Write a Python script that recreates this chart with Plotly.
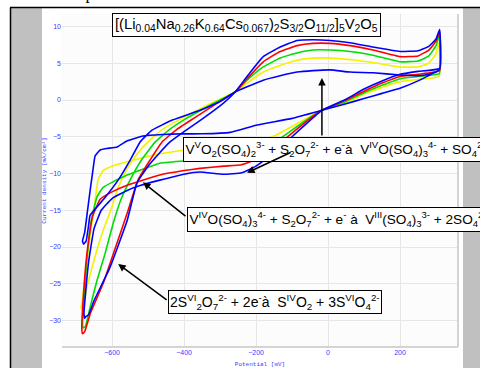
import plotly.graph_objects as go

# ---- data (potential in mV, current density in mA/cm2) ----
# fastest scan (outer blue)
blue1_up_E = [-674,-665,-650,-606,-558,-531,-500,-470,-439,-400,-350,-300,-258,-225,-180,-133,-86,-42,6,61,125,200,250,280,300,310]
blue1_up_I = [-29.5,-29.2,-27.3,-22.8,-16.4,-11.3,-9.0,-7.3,-5.7,-4.3,-2.6,-0.8,1.1,3.2,5.9,7.2,8.1,8.2,8.1,7.8,7.2,6.6,6.7,7.3,8.3,9.6]
blue1_dn_E = [310,250,200,150,100,50,-17,-60,-100,-150,-200,-240,-290,-356,-400,-467,-520,-558,-600,-630,-650,-665,-674,-678,-676]
blue1_dn_I = [4.3,3.9,3.5,2.6,1.5,0.1,-1.4,-3.2,-5.0,-7.2,-9.0,-9.9,-10.1,-9.8,-10.1,-10.9,-11.6,-12.3,-13.4,-15.0,-17.5,-22.0,-26.5,-29.0,-29.7]

red_up_E = [-682,-676,-660,-625,-590,-558,-528,-500,-461,-420,-370,-310,-258,-225,-180,-133,-86,-42,6,61,125,200,250,280,300,310]
red_up_I = [-31.8,-31.5,-29.0,-25.0,-20.0,-15.4,-10.9,-8.6,-5.7,-4.0,-2.4,-0.5,1.1,2.9,5.2,6.6,7.4,7.7,7.7,7.4,6.8,5.9,6.0,6.8,8.0,9.3]
red_dn_E = [310,250,200,150,100,50,-17,-60,-100,-150,-200,-240,-290,-356,-400,-467,-558,-600,-633,-655,-670,-680,-684]
red_dn_I = [4.0,3.5,3.2,2.3,1.2,0.0,-1.4,-2.9,-4.5,-6.5,-8.1,-8.8,-9.0,-9.3,-9.6,-10.2,-11.6,-12.5,-13.5,-16.0,-21.0,-27.0,-31.0]

green_up_E = [-680,-674,-660,-642,-620,-597,-575,-550,-520,-480,-440,-390,-320,-258,-225,-180,-133,-86,-42,6,61,125,200,250,280,300,309]
green_up_I = [-31.0,-30.8,-28.0,-24.6,-21.0,-16.8,-13.5,-10.9,-8.3,-5.7,-4.0,-2.4,-0.5,1.1,2.7,4.5,5.7,6.4,6.8,6.8,6.6,6.1,5.2,5.3,6.0,7.4,8.8]
green_dn_E = [309,250,200,150,100,50,-17,-60,-100,-150,-200,-240,-290,-356,-400,-467,-558,-600,-625,-642,-660,-672,-679,-682]
green_dn_I = [3.6,3.2,2.9,2.0,1.0,-0.2,-1.4,-2.7,-4.1,-5.8,-7.2,-7.8,-8.0,-8.1,-8.3,-8.6,-10.2,-11.2,-11.9,-13.2,-17.0,-23.0,-28.0,-30.6]

yellow_up_E = [-684,-681,-670,-653,-625,-600,-583,-560,-530,-500,-460,-410,-340,-258,-225,-180,-133,-86,-42,6,61,125,200,250,280,300,308]
yellow_up_I = [-28.4,-28.3,-25.5,-22.3,-17.8,-14.5,-11.9,-9.5,-7.3,-5.7,-4.0,-2.6,-0.8,1.1,2.3,3.8,4.7,5.4,5.7,5.7,5.5,5.1,4.5,4.5,5.0,6.3,7.8]
yellow_dn_E = [308,250,200,150,100,50,-17,-60,-100,-150,-200,-240,-290,-356,-400,-467,-558,-600,-625,-639,-647,-660,-672,-682,-686]
yellow_dn_I = [3.2,2.8,2.5,1.7,0.8,-0.4,-1.4,-2.5,-3.6,-4.9,-5.8,-6.2,-6.3,-6.4,-6.8,-7.3,-8.4,-9.0,-9.6,-10.9,-13.7,-18.0,-23.0,-27.0,-28.2]

# slowest scan (inner blue)
blue2_up_E = [-679,-672,-665,-661,-620,-583,-550,-522,-489,-431,-356,-300,-258,-225,-180,-133,-86,-42,6,61,125,200,250,280,300,310]
blue2_up_I = [-19.6,-19.2,-17.0,-15.7,-13.3,-10.9,-8.2,-5.7,-4.1,-2.7,-1.4,-0.2,1.1,1.8,2.7,3.3,3.8,4.0,4.1,3.8,3.7,3.4,3.3,3.5,3.8,4.1]
blue2_dn_E = [310,250,200,150,100,50,-17,-100,-197,-272,-350,-403,-460,-514,-560,-586,-615,-633,-647,-653,-660,-668,-676,-682]
blue2_dn_I = [4.1,2.6,1.6,0.9,0.2,-0.5,-1.4,-2.5,-3.4,-4.4,-4.6,-4.6,-4.7,-4.9,-5.6,-6.4,-6.6,-6.8,-7.6,-9.5,-12.0,-15.0,-18.0,-19.2]

x_ticks = [-600, -400, -200, 0, 200]
y_ticks = [-30, -25, -20, -15, -10, -5, 0, 5, 10]

series = [
    (yellow_up_E, yellow_up_I, yellow_dn_E, yellow_dn_I, "#f2f200"),
    (green_up_E, green_up_I, green_dn_E, green_dn_I, "#00dd00"),
    (red_up_E, red_up_I, red_dn_E, red_dn_I, "#ff0000"),
    (blue1_up_E, blue1_up_I, blue1_dn_E, blue1_dn_I, "#0000ff"),
    (blue2_up_E, blue2_up_I, blue2_dn_E, blue2_dn_I, "#0000ff"),
]

fig = go.Figure()
for ue, ui, de, di, col in series:
    fig.add_trace(go.Scatter(
        x=ue + de + [ue[0]], y=ui + di + [ui[0]], mode="lines",
        line=dict(color=col, width=1.6, shape="spline", smoothing=0.35),
        showlegend=False, hoverinfo="skip"))

L, R, T, B = 62, 22, 14, 21
W, H = 480, 368
pw, ph = W - L - R, H - T - B

def px(xp):
    return (xp - L) / pw

def py(yp):
    return (H - B - yp) / ph

tick_font = dict(family="Liberation Sans, Arial", size=7, color="#3a3aff")
title_font = dict(family="Liberation Mono, Courier New", size=6, color="#3a3aff")

fig.update_layout(
    width=W, height=H,
    margin=dict(l=L, r=R, t=T, b=B, autoexpand=False),
    paper_bgcolor="white", plot_bgcolor="#fbfcfb",
    xaxis=dict(range=[-739, 361], tickvals=x_ticks, ticks="", showgrid=True,
               gridcolor="#e6e6e6", gridwidth=1, zeroline=False,
               tickfont=tick_font, showline=False,
               title=dict(text="Potential [mV]", font=title_font, standoff=6)),
    yaxis=dict(range=[-33.6, 11.7], tickvals=y_ticks, ticks="", showgrid=True,
               gridcolor="#e6e6e6", gridwidth=1, zeroline=False,
               tickfont=tick_font, showline=False,
               title=dict(text="Current density [mA/cm²]", font=title_font, standoff=2)),
)

shapes = [
    dict(type="rect", xref="paper", yref="paper", x0=px(11), x1=px(42), y0=py(368), y1=py(8),
         fillcolor="#c0c0c0", line=dict(width=0), layer="below"),
    dict(type="rect", xref="paper", yref="paper", x0=px(463), x1=px(481), y0=py(368), y1=py(8),
         fillcolor="#c0c0c0", line=dict(width=0), layer="below"),
    dict(type="line", xref="paper", yref="paper", x0=px(10), x1=px(481), y0=py(7.5), y1=py(7.5),
         line=dict(color="black", width=1.5)),
    dict(type="line", xref="paper", yref="paper", x0=px(10.5), x1=px(10.5), y0=py(7.5), y1=py(369),
         line=dict(color="black", width=1.5)),
    dict(type="line", xref="paper", yref="paper", x0=0, x1=1, y0=0, y1=0,
         line=dict(color="#d4d4d4", width=2)),
    dict(type="line", xref="paper", yref="paper", x0=1, x1=1, y0=0, y1=1,
         line=dict(color="#d4d4d4", width=2)),
]
fig.update_layout(shapes=shapes)

box_font = dict(family="Liberation Sans, Arial", size=13.6, color="black")
nb = "\u00a0"
annotations = [
    dict(text="reaction is possible.", xref="paper", yref="paper", x=px(9), y=py(5),
         xanchor="left", yanchor="bottom", showarrow=False,
         font=dict(family="Liberation Serif, Times New Roman", size=17, color="black")),
    dict(text="[(Li<sub>0.04</sub>Na<sub>0.26</sub>K<sub>0.64</sub>Cs<sub>0.067</sub>)<sub>2</sub>S<sub>3/2</sub>O<sub>11/2</sub>]<sub>5</sub>V<sub>2</sub>O<sub>5</sub>",
         xref="paper", yref="paper", x=px(112), y=py(13), xanchor="left", yanchor="top",
         showarrow=False, bgcolor="white", bordercolor="black", borderwidth=1, borderpad=2,
         font=dict(family="Liberation Sans, Arial", size=14.8, color="black")),
    dict(text="V<sup>V</sup>O<sub>2</sub>(SO<sub>4</sub>)<sub>2</sub><sup>3-</sup> + S<sub>2</sub>O<sub>7</sub><sup>2-</sup> + e<sup>-</sup>à" + nb + " V<sup>IV</sup>O(SO<sub>4</sub>)<sub>3</sub><sup>4-</sup> + SO<sub>4</sub><sup>2-</sup>",
         xref="paper", yref="paper", x=px(183), y=py(137), xanchor="left", yanchor="top",
         showarrow=False, bgcolor="white", bordercolor="black", borderwidth=1, borderpad=1.5,
         font=box_font),
    dict(text="V<sup>IV</sup>O(SO<sub>4</sub>)<sub>3</sub><sup>4-</sup> + S<sub>2</sub>O<sub>7</sub><sup>2-</sup> + e<sup>-</sup> à" + nb + " V<sup>III</sup>(SO<sub>4</sub>)<sub>3</sub><sup>3-</sup> + 2SO<sub>4</sub><sup>2-</sup>",
         xref="paper", yref="paper", x=px(187), y=py(207), xanchor="left", yanchor="top",
         showarrow=False, bgcolor="white", bordercolor="black", borderwidth=1, borderpad=1.5,
         font=box_font),
    dict(text="2S<sup>VI</sup><sub>2</sub>O<sub>7</sub><sup>2-</sup> + 2e<sup>-</sup>à" + nb + " S<sup>IV</sup>O<sub>2</sub> + 3S<sup>VI</sup>O<sub>4</sub><sup>2-</sup>",
         xref="paper", yref="paper", x=px(168), y=py(290), xanchor="left", yanchor="top",
         showarrow=False, bgcolor="white", bordercolor="black", borderwidth=1, borderpad=1,
         font=dict(family="Liberation Sans, Arial", size=14, color="black")),
]
arrows = [(-17, 3.0, 0, 59), (-225, -9.9, 45, -21), (-514, -11.2, 44, 35), (-583, -22.3, 50, 37)]
for xa, ya, axo, ayo in arrows:
    annotations.append(dict(text="", x=xa, y=ya, xref="x", yref="y", ax=axo, ay=ayo,
                            showarrow=True, arrowhead=2, arrowsize=1, arrowwidth=1.5,
                            arrowcolor="black"))
fig.update_layout(annotations=annotations)

fig.write_html("out.html", config={"displayModeBar": False, "staticPlot": True},
               post_script="document.body.style.margin='0px';document.body.style.overflow='hidden';")
